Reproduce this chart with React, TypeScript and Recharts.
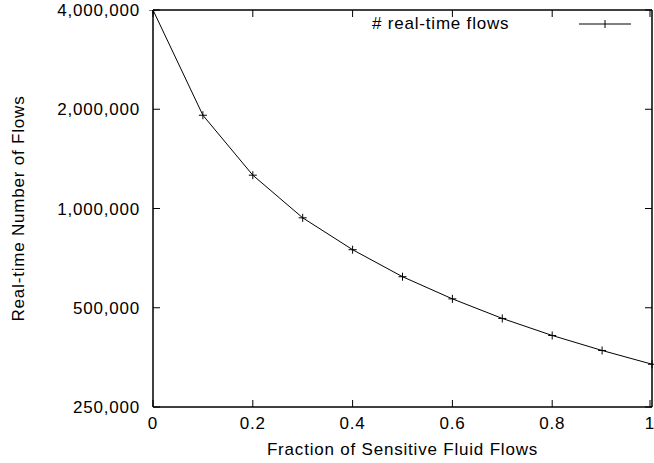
import { Label, Legend, Line, LineChart, XAxis, YAxis } from "recharts";

const FRACTIONS = [0, 0.1, 0.2, 0.3, 0.4, 0.5, 0.6, 0.7, 0.8, 0.9, 1];
const REALTIME_FLOWS = [4000000, 1918000, 1262000, 937000, 750000, 621000, 532000, 464000, 412000, 371000, 337000];
const X_TICKS = [0, 0.2, 0.4, 0.6, 0.8, 1];
const Y_TICKS = [250000, 500000, 1000000, 2000000, 4000000];
const Y_DOMAIN = [250000, 4000000];
const SERIES_NAME = "# real-time flows";
const X_TITLE = "Fraction of Sensitive Fluid Flows";
const Y_TITLE = "Real-time Number of Flows";

const data = FRACTIONS.map((f, i) => ({ f, flows: REALTIME_FLOWS[i] }));

const FONT = "'Liberation Sans', Arial, Helvetica, sans-serif";
const textStyle = { fontFamily: FONT, fontSize: 17, letterSpacing: 0.8, fill: "#000" };
const TICK = 7;

const fmtX = (v: number) => (v === 0 || v === 1 ? String(v) : v.toFixed(1));
const fmtY = (v: number) => v.toLocaleString("en-US");

function LeftTick({ x, y, payload }: any) {
  return (
    <g>
      <line x1={x} x2={x + TICK} y1={y} y2={y} stroke="#000" />
      <text x={x - 13} y={y + 6} textAnchor="end" style={textStyle}>
        {fmtY(payload.value)}
      </text>
    </g>
  );
}

function BottomTick({ x, y, payload }: any) {
  return (
    <g>
      <line x1={x} x2={x} y1={y} y2={y - TICK} stroke="#000" />
      <text x={x} y={y + 22} textAnchor="middle" style={textStyle}>
        {fmtX(payload.value)}
      </text>
    </g>
  );
}

function TopTick({ x, y }: any) {
  return <line x1={x} x2={x} y1={y} y2={y + TICK} stroke="#000" />;
}

function RightTick({ x, y }: any) {
  return <line x1={x} x2={x - TICK} y1={y} y2={y} stroke="#000" />;
}

function PlusDot({ cx, cy }: any) {
  if (cx == null || cy == null) return null;
  return <path d={`M${cx - 4},${cy}H${cx + 4}M${cx},${cy - 4}V${cy + 4}`} stroke="#000" strokeWidth={1} />;
}

function KeyBox() {
  return (
    <div style={{ display: "flex", alignItems: "center", fontFamily: FONT, fontSize: 17, letterSpacing: 0.8 }}>
      <span style={{ width: 206 }}>{SERIES_NAME}</span>
      <svg width={54} height={12}>
        <line x1={1} x2={53} y1={6} y2={6} stroke="#000" />
        <path d="M27,2V10" stroke="#000" />
      </svg>
    </div>
  );
}

export default function App() {
  return (
    <div style={{ position: "absolute", left: 0, top: 0, background: "#fff" }}>
      <LineChart width={654} height={463} data={data} margin={{ top: 9, right: 1, bottom: 0, left: 0 }}>
        <XAxis
          dataKey="f"
          type="number"
          domain={[0, 1]}
          ticks={X_TICKS}
          height={56}
          tickSize={0}
          tickMargin={0}
          tickLine={false}
          tick={<BottomTick />}
          axisLine={{ stroke: "#000", strokeWidth: 1.5 }}
        >
          <Label
            content={({ viewBox }: any) => (
              <text x={viewBox.x + viewBox.width / 2} y={viewBox.y + 48} textAnchor="middle" style={textStyle}>
                {X_TITLE}
              </text>
            )}
          />
        </XAxis>
        <XAxis
          xAxisId="top"
          orientation="top"
          dataKey="f"
          type="number"
          domain={[0, 1]}
          ticks={X_TICKS}
          height={1}
          tickSize={0}
          tickMargin={0}
          tickLine={false}
          tick={<TopTick />}
          axisLine={{ stroke: "#000", strokeWidth: 1.5 }}
        />
        <YAxis
          scale="log"
          domain={Y_DOMAIN}
          allowDataOverflow
          ticks={Y_TICKS}
          width={153}
          tickSize={0}
          tickMargin={0}
          tickLine={false}
          tick={<LeftTick />}
          axisLine={{ stroke: "#000", strokeWidth: 1.5 }}
        >
          <Label
            content={({ viewBox }: any) => {
              const cx = viewBox.x + 24;
              const cy = viewBox.y + viewBox.height / 2;
              return (
                <text x={cx} y={cy} textAnchor="middle" transform={`rotate(-90 ${cx} ${cy})`} style={textStyle}>
                  {Y_TITLE}
                </text>
              );
            }}
          />
        </YAxis>
        <YAxis
          yAxisId="right"
          orientation="right"
          scale="log"
          domain={Y_DOMAIN}
          allowDataOverflow
          ticks={Y_TICKS}
          width={1}
          tickSize={0}
          tickMargin={0}
          tickLine={false}
          tick={<RightTick />}
          axisLine={{ stroke: "#000", strokeWidth: 1.5 }}
        />
        <Legend
          layout="horizontal"
          verticalAlign="middle"
          align="center"
          wrapperStyle={{ top: 14, left: 372, width: 270 }}
          content={() => <KeyBox />}
        />
        {/* invisible series so the mirrored frame axes get drawn */}
        <Line
          xAxisId="top"
          yAxisId="right"
          type="linear"
          dataKey="flows"
          stroke="none"
          dot={false}
          activeDot={false}
          legendType="none"
          isAnimationActive={false}
        />
        <Line
          type="linear"
          dataKey="flows"
          stroke="#000"
          strokeWidth={1}
          dot={<PlusDot />}
          activeDot={false}
          isAnimationActive={false}
        />
      </LineChart>
    </div>
  );
}
